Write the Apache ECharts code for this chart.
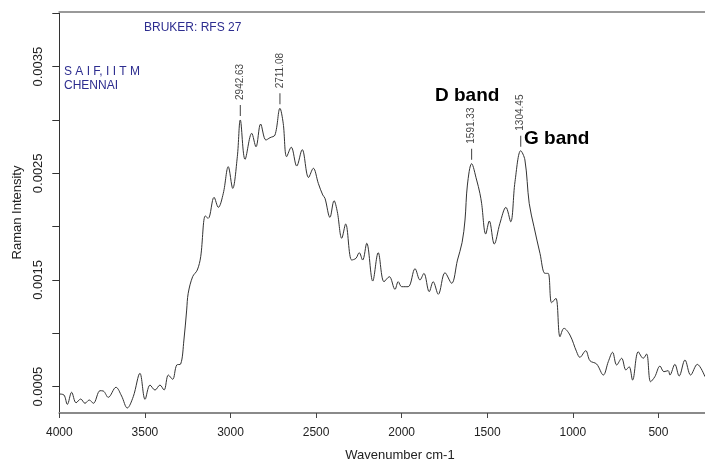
<!DOCTYPE html>
<html>
<head>
<meta charset="utf-8">
<script src="https://cdn.jsdelivr.net/npm/echarts@6/dist/echarts.min.js"></script>
<style>html,body{margin:0;padding:0;background:#fff;}#c{width:705px;height:461px;}</style>
</head>
<body>
<div id="c"></div>
<script>
const wavenumbers = [4000,3973,3953,3928,3902,3875,3850,3825,3801,3762,
3743,3714,3669,3636,3603,3568,3529,3499,3470,3441,
3412,3388,3363,3338,3314,3291,3272,3256,3247,3221,
3194,3174,3147,3130,3096,3071,3042,3013,2987,2960,
2942.63,2915,2876,2851,2824,2793,2769,2740,2711.08,2692,
2672,2645,2613,2581,2544,2516,2487,2461,2448,2419,
2395,2376,2350,2327,2292,2267,2248,2228,2204,2169,
2137,2103,2072,2039,2020,2000,1962,1922,1893,1870,
1839,1816,1786,1747,1708,1674,1647,1630,1616,1591.33,
1562,1543,1533,1509,1488,1459,1426,1391,1363,1338,
1304.45,1280,1255,1227,1192,1163,1144,1124,1099,1075,
1052,1017,978,959,925,900,861,822,793,768,
744,715,690,671,651,618,589,569,546,521,
491,468,443,433,404,379,345,312,273,228];
const intensity = [0.000431,0.000422,0.000334,0.000447,0.000349,0.000384,0.000344,0.000375,0.000344,0.000462,
0.000459,0.0004,0.000494,0.000412,0.0003,0.000406,0.000625,0.000381,0.000515,0.000468,
0.000515,0.000468,0.000609,0.000569,0.000703,0.000712,0.000937,0.001218,0.001375,0.001531,
0.001593,0.001718,0.0021,0.002078,0.002275,0.002181,0.002312,0.002562,0.002359,0.002656,
0.003,0.002631,0.002875,0.002749,0.002962,0.002812,0.002834,0.002859,0.003109,0.002969,
0.002656,0.002745,0.002568,0.002722,0.002461,0.002547,0.002406,0.002297,0.002266,0.002087,
0.002243,0.00214,0.001891,0.002025,0.001687,0.001703,0.001756,0.001687,0.001844,0.00149,
0.001756,0.001484,0.001531,0.001412,0.001484,0.001437,0.001437,0.001606,0.0015,0.001562,
0.00139,0.001484,0.001366,0.001568,0.001469,0.001687,0.001851,0.002062,0.00239,0.00259,
0.002437,0.002312,0.002219,0.001931,0.002053,0.001837,0.002031,0.002181,0.002046,0.002421,
0.002712,0.002625,0.002219,0.001999,0.00175,0.001562,0.001562,0.001287,0.001328,0.000968,
0.001047,0.000984,0.000827,0.000775,0.000837,0.000743,0.000712,0.000609,0.000734,0.000822,
0.000703,0.000766,0.000656,0.000687,0.000562,0.000827,0.000766,0.000806,0.000546,0.000593,
0.000693,0.00064,0.00065,0.000609,0.000709,0.0006,0.00075,0.000609,0.000709,0.000593];
const peakWn = [2942.63, 2711.08, 1591.33, 1304.45];
const peakVal = [0.003, 0.003109, 0.00259, 0.002712];
const peakLabels = ['2942.63', '2711.08', '1591.33', '1304.45'];
const xTicks = [500, 1000, 1500, 2000, 2500, 3000, 3500, 4000];
const yTicks = [0.0005, 0.001, 0.0015, 0.002, 0.0025, 0.003, 0.0035, 0.004];
const yLabels = [0.0005, 0.0015, 0.0025, 0.0035];

const FONT = "'Liberation Sans', Arial, sans-serif";
const chart = echarts.init(document.getElementById('c'), null, {renderer: 'canvas'});
const lineData = wavenumbers.map((w, i) => [w, intensity[i]]);
const peakData = peakWn.map((w, i) => [w, peakVal[i]]);

chart.setOption({
  animation: false,
  backgroundColor: '#fff',
  grid: {left: 59.3, right: 0, top: 12, bottom: 48, containLabel: false},
  xAxis: [{
    type: 'value', inverse: true, min: 228, max: 4000,
    axisLine: {show: true, lineStyle: {color: '#8a8a8a', width: 2}},
    axisTick: {show: true, length: 5, customValues: xTicks, lineStyle: {color: '#444'}},
    axisLabel: {customValues: xTicks, margin: 14, fontSize: 12, color: '#222', fontFamily: FONT,
      formatter: v => String(Math.round(v))},
    splitLine: {show: false}
  }, {
    type: 'value', inverse: true, min: 228, max: 4000, position: 'top',
    axisLine: {show: true, lineStyle: {color: '#999', width: 2}},
    axisTick: {show: false}, axisLabel: {show: false}, splitLine: {show: false}
  }],
  yAxis: {
    type: 'value', min: 0.000253, max: 0.0040122,
    name: 'Raman Intensity', nameLocation: 'middle', nameGap: 35, nameRotate: 90,
    nameTextStyle: {fontSize: 13, color: '#222', fontFamily: FONT},
    axisLine: {show: true, lineStyle: {color: '#333', width: 1}},
    axisTick: {show: true, length: 7, customValues: yTicks, lineStyle: {color: '#333'}},
    axisLabel: {customValues: yLabels, rotate: 90, margin: 14, fontSize: 13, color: '#222', fontFamily: FONT,
      formatter: v => v.toFixed(4)},
    splitLine: {show: false}
  },
  series: [{
    type: 'line', data: lineData, symbol: 'none', smooth: 0.35,
    lineStyle: {color: '#333', width: 1}, silent: true
  }, {
    type: 'scatter', data: peakData, symbol: 'rect', symbolSize: [1, 11], symbolOffset: [0, -9.5],
    itemStyle: {color: '#111'}, silent: true,
    label: {show: true, position: 'top', distance: 5, rotate: 90, align: 'left', verticalAlign: 'middle',
      fontSize: 10, color: '#111', fontFamily: FONT,
      formatter: p => peakLabels[p.dataIndex]}
  }],
  graphic: [
    {type: 'text', x: 144, y: 28, style: {text: 'BRUKER: RFS 27', font: '12px ' + FONT, fill: '#2d2d8f', align: 'left', verticalAlign: 'middle'}},
    {type: 'text', x: 64, y: 72, style: {text: 'S A I F, I I T M', font: '12px ' + FONT, fill: '#2d2d8f', align: 'left', verticalAlign: 'middle'}},
    {type: 'text', x: 64, y: 86, style: {text: 'CHENNAI', font: '12px ' + FONT, fill: '#2d2d8f', align: 'left', verticalAlign: 'middle'}},
    {type: 'text', x: 435, y: 96, style: {text: 'D band', font: 'bold 19px ' + FONT, fill: '#000', align: 'left', verticalAlign: 'middle'}},
    {type: 'text', x: 524, y: 139, style: {text: 'G band', font: 'bold 19px ' + FONT, fill: '#000', align: 'left', verticalAlign: 'middle'}},
    {type: 'text', x: 400, y: 455, style: {text: 'Wavenumber cm-1', font: '13px ' + FONT, fill: '#222', align: 'center', verticalAlign: 'middle'}}
  ]
});
</script>
</body>
</html>
